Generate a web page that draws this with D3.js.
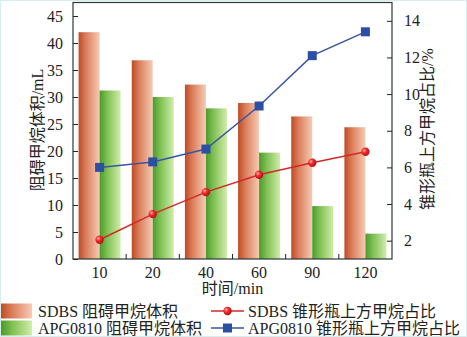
<!DOCTYPE html>
<html><head><meta charset="utf-8">
<script src="https://cdn.jsdelivr.net/npm/d3@7"></script>
<style>
html,body{margin:0;padding:0;background:#fff;}
svg{display:block;}
text{font-family:"Liberation Serif","Noto Sans CJK SC",serif;fill:#222;}
</style></head>
<body><svg id="c" width="467" height="337"></svg>
<script>
const categories = ["10","20","40","60","90","120"];
const sdbsVolume = [42.0, 36.8, 32.3, 28.9, 26.4, 24.4];
const apgVolume = [31.2, 30.0, 27.9, 19.7, 9.8, 4.7];
const sdbsRatio = [2.05, 3.45, 4.65, 5.6, 6.25, 6.85];
const apgRatio = [6.0, 6.3, 7.0, 9.35, 12.1, 13.4];
const leftTicks = [0,5,10,15,20,25,30,35,40,45];
const rightTicks = [2,4,6,8,10,12,14];
const xTitle = "时间/min";
const leftTitle = "阻碍甲烷体积/mL";
const rightTitle = "锥形瓶上方甲烷占比/%";
const legendBars = ["SDBS 阻碍甲烷体积","APG0810 阻碍甲烷体积"];
const legendLines = ["SDBS 锥形瓶上方甲烷占比","APG0810 锥形瓶上方甲烷占比"];

const svg = d3.select("#c");
const L=73, R=392, T=2.5, B=259;
const defs = svg.append("defs");
function grad(id, stops){
  const g = defs.append("linearGradient").attr("id",id).attr("x1","0").attr("x2","1").attr("y1","0").attr("y2","0");
  stops.forEach(s=>g.append("stop").attr("offset",s[0]).attr("stop-color",s[1]));
}
grad("gOr",[[0,"#bf4a24"],[0.35,"#db7d5a"],[1,"#f6cbb5"]]);
grad("gGr",[[0,"#4a9a2a"],[0.35,"#7dbf52"],[1,"#d2edaa"]]);
const rg = defs.append("radialGradient").attr("id","gDot").attr("cx","0.35").attr("cy","0.35").attr("r","0.7");
rg.append("stop").attr("offset",0).attr("stop-color","#ffb0b0");
rg.append("stop").attr("offset",0.4).attr("stop-color","#ee2a2a");
rg.append("stop").attr("offset",1).attr("stop-color","#b01010");

// border
svg.append("rect").attr("x",0.5).attr("y",0.5).attr("width",466).attr("height",336)
  .attr("fill","none").attr("stroke","#d8eeee");

const x = d3.scaleBand().domain(categories).range([L,R]).paddingInner(0.21).paddingOuter(0.105);
const xs = d3.scaleBand().domain(["a","b"]).range([0,x.bandwidth()]);
const yL = d3.scaleLinear().domain([0,47.5]).range([B,T]);
const yR = d3.scaleLinear().domain([1,15]).range([B,T]);
const cx = c => x(c)+x.bandwidth()/2;

// bars
svg.append("g").selectAll("rect").data(categories).join("rect")
  .attr("x",c=>x(c)+xs("a")).attr("width",xs.bandwidth())
  .attr("y",(c,i)=>yL(sdbsVolume[i])).attr("height",(c,i)=>B-yL(sdbsVolume[i]))
  .attr("fill","url(#gOr)");
svg.append("g").selectAll("rect").data(categories).join("rect")
  .attr("x",c=>x(c)+xs("b")).attr("width",xs.bandwidth())
  .attr("y",(c,i)=>yL(apgVolume[i])).attr("height",(c,i)=>B-yL(apgVolume[i]))
  .attr("fill","url(#gGr)");

// lines
const lineGen = arr => d3.line().x((d,i)=>cx(categories[i])).y(d=>yR(d))(arr);
svg.append("path").attr("d",lineGen(apgRatio)).attr("fill","none").attr("stroke","#3a56a0").attr("stroke-width",1.5);
svg.append("g").selectAll("rect").data(apgRatio).join("rect")
  .attr("x",(d,i)=>cx(categories[i])-4.5).attr("y",d=>yR(d)-4.5).attr("width",9).attr("height",9)
  .attr("fill","#2c4fa3");
svg.append("path").attr("d",lineGen(sdbsRatio)).attr("fill","none").attr("stroke","#d42828").attr("stroke-width",1.5);
svg.append("g").selectAll("circle").data(sdbsRatio).join("circle")
  .attr("cx",(d,i)=>cx(categories[i])).attr("cy",d=>yR(d)).attr("r",4.2)
  .attr("fill","url(#gDot)");

// frame
svg.append("rect").attr("x",L).attr("y",T).attr("width",R-L).attr("height",B-T)
  .attr("fill","none").attr("stroke","#2b3a36").attr("stroke-width",1.2);

// left axis
const gl = svg.append("g").attr("transform",`translate(${L},0)`)
  .call(d3.axisLeft(yL).tickValues(leftTicks).tickSize(-5).tickPadding(10).tickFormat(d3.format("d")));
gl.select(".domain").remove();
gl.selectAll("line").attr("stroke","#222");
gl.selectAll("text").attr("font-size",16).style("font-family","Liberation Serif");

// right axis
const gr = svg.append("g").attr("transform",`translate(${R},0)`)
  .call(d3.axisRight(yR).tickValues(rightTicks).tickSize(-5).tickPadding(12).tickFormat(d3.format("d")));
gr.select(".domain").remove();
gr.selectAll("line").attr("stroke","#222");
gr.selectAll("text").attr("font-size",16).style("font-family","Liberation Serif");

// bottom axis labels
const gb = svg.append("g").attr("transform",`translate(0,${B})`)
  .call(d3.axisBottom(x).tickSize(0).tickPadding(8));
gb.select(".domain").remove();
gb.selectAll("text").attr("font-size",16).style("font-family","Liberation Serif");
// boundary ticks
const bounds = categories.slice(0,-1).map(c=>x(c)+x.bandwidth()+(x.step()-x.bandwidth())/2);
svg.append("g").selectAll("line").data(bounds).join("line")
  .attr("x1",d=>d).attr("x2",d=>d).attr("y1",B).attr("y2",B-5).attr("stroke","#222");

// titles
svg.append("text").attr("transform",`translate(${(L+R)/2},294)`).attr("text-anchor","middle")
  .attr("font-size",16).text(xTitle);
svg.append("text").attr("transform",`translate(43,130) rotate(-90)`).attr("text-anchor","middle")
  .attr("font-size",16).text(leftTitle);
svg.append("text").attr("transform",`translate(433,129) rotate(-90)`).attr("text-anchor","middle")
  .attr("font-size",16).text(rightTitle);

// legend
const rows=[311,328];
["url(#gOr)","url(#gGr)"].forEach((f,i)=>{
  svg.append("rect").attr("x",1).attr("y",rows[i]-7.5).attr("width",31).attr("height",15).attr("fill",f);
  svg.append("text").attr("x",38).attr("y",rows[i]+5.5).attr("font-size",16).text(legendBars[i]);
});
svg.append("line").attr("x1",211).attr("x2",244).attr("y1",rows[0]).attr("y2",rows[0]).attr("stroke","#d42828").attr("stroke-width",1.5);
svg.append("circle").attr("cx",227.5).attr("cy",rows[0]).attr("r",4.2).attr("fill","url(#gDot)");
svg.append("line").attr("x1",211).attr("x2",244).attr("y1",rows[1]).attr("y2",rows[1]).attr("stroke","#3a56a0").attr("stroke-width",1.5);
svg.append("rect").attr("x",223).attr("y",rows[1]-4.5).attr("width",9).attr("height",9).attr("fill","#2c4fa3");
legendLines.forEach((t,i)=>{
  svg.append("text").attr("x",248).attr("y",rows[i]+5.5).attr("font-size",16).text(t);
});
</script></body></html>
